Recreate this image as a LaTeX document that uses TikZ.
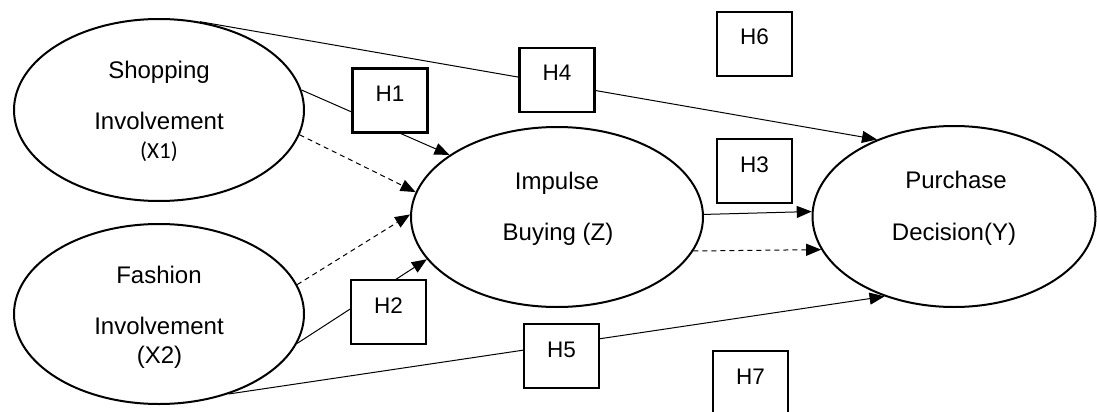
\documentclass[tikz,border=0pt]{standalone}
\usepackage{fontspec}
\setmainfont{Liberation Sans}
\newfontfamily\carl{Carlito}
\usetikzlibrary{shapes.geometric,arrows.meta}
\tikzset{
  construct/.style={draw, ellipse, line width=2pt, inner sep=0pt, fill=white},
  etext/.style={anchor=base, inner sep=0pt, font=\fontsize{24}{28}\selectfont},
  hbox/.style={draw, rectangle, line width=2.2pt, fill=white, inner sep=0pt,
    minimum width=75pt, text height=33pt, text depth=31pt,
    font=\fontsize{22.5}{26}\selectfont},
  path1/.style={line width=1pt, -{Triangle[length=15pt,width=12pt]}},
  dpath/.style={path1, dash pattern=on 5pt off 4pt},
}
\begin{document}
\begin{tikzpicture}[x=1pt,y=-1pt]
\useasboundingbox (0,0) rectangle (1097,412);
% constructs
\node[construct, minimum width=290pt, minimum height=182pt] (x1) at (159,110) {};
\node[construct, minimum width=290pt, minimum height=180pt] (x2) at (159,314) {};
\node[construct, minimum width=292pt, minimum height=180pt] (z) at (557,217) {};
\node[construct, minimum width=283pt, minimum height=181pt] (y) at (954,216.5) {};
% texts
\node[etext] (t1a) at (159,78) {Shopping};
\node[etext] (t1b) at (159,129) {Involvement};
\node[etext, font=\carl\fontsize{23}{26}\selectfont] (t1c) at (159,158) {(X1)};
\node[etext] (t2a) at (159,283) {Fashion};
\node[etext] (t2b) at (159,334) {Involvement};
\node[etext] (t2c) at (159.5,363) {(X2)};
\node[etext] (tza) at (557,189) {Impulse};
\node[etext] (tzb) at (558,240) {Buying (Z)};
\node[etext] (tya) at (956,188) {Purchase};
\node[etext] (tyb) at (954,240) {Decision(Y)};
% connectors
\draw[path1] (x1.65) -- (y.135);
\draw[path1] (x1.8) -- (z.150);
\draw[dpath] (x1.-10) -- (z.170);
\draw[dpath] (x2.12) -- (z.179);
\draw[path1] (x2.-12) -- (z.198);
\draw[path1] (x2.-49) -- (y.229);
\draw[path1] (z.1) -- (y.178);
\draw[dpath] (z.-14) -- (y.194);
% hypothesis boxes
\node[hbox] (h1) at (390,100.5) {H1};
\node[hbox] (h4) at (557,80) {H4};
\node[hbox] (h6) at (754.5,44) {H6};
\node[hbox] (h3) at (754.5,171) {H3};
\node[hbox] (h2) at (388.5,312) {H2};
\node[hbox] (h5) at (561.5,356) {H5};
\node[hbox] (h7) at (750.5,383) {H7};
\end{tikzpicture}
\end{document}
